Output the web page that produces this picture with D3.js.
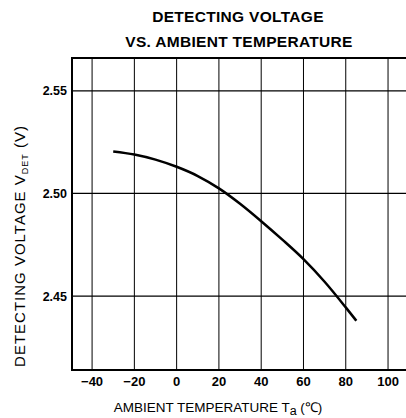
<!DOCTYPE html>
<html>
<head>
<meta charset="utf-8">
<script src="https://cdn.jsdelivr.net/npm/d3@7"></script>
<style>
  body { margin: 0; background: #fff; }
  text { font-family: "Liberation Sans", Arial, sans-serif; fill: #000; }
</style>
</head>
<body>
<div id="chart"></div>
<script>
// curve
const temps = [-30, -20, -10, 0, 10, 20, 30, 40, 50, 60, 70, 80, 85];
const volts = [2.5205, 2.519, 2.5165, 2.513, 2.5085, 2.5025, 2.495, 2.4865, 2.4775, 2.468, 2.457, 2.4445, 2.438];
const xTicks = [-40, -20, 0, 20, 40, 60, 80, 100];
const yTicks = [2.45, 2.50, 2.55];

const width = 406, height = 418;
const plotL = 72, plotT = 58, plotB = 370, plotR = 406;

const svg = d3.select("#chart")
  .append("svg")
  .attr("width", width)
  .attr("height", height);

const x = d3.scaleLinear().domain([-49.5, 108.5]).range([plotL, plotR]);
const y = d3.scaleLinear().domain([2.414, 2.566]).range([plotB, plotT]);

// grid
svg.selectAll(".vgrid")
  .data(xTicks)
  .enter()
  .append("line")
  .attr("x1", d => x(d)).attr("x2", d => x(d))
  .attr("y1", plotT).attr("y2", plotB)
  .attr("stroke", "#000")
  .attr("stroke-width", 1);

svg.selectAll(".hgrid")
  .data(yTicks)
  .enter()
  .append("line")
  .attr("x1", plotL).attr("x2", plotR)
  .attr("y1", d => y(d)).attr("y2", d => y(d))
  .attr("stroke", "#000")
  .attr("stroke-width", 1.3);

// frame (right side is open)
svg.append("path")
  .attr("d", `M${plotR},${plotT}H${plotL}V${plotB}H${plotR}`)
  .attr("fill", "none")
  .attr("stroke", "#000")
  .attr("stroke-width", 2);

// tick labels
svg.selectAll(".xlab")
  .data(xTicks)
  .enter()
  .append("text")
  .attr("x", d => x(d))
  .attr("y", 386)
  .attr("text-anchor", "middle")
  .style("font-size", "13px")
  .style("font-weight", "bold")
  .text(d => d < 0 ? "\u2212" + Math.abs(d) : d);

svg.selectAll(".ylab")
  .data(yTicks)
  .enter()
  .append("text")
  .attr("x", 67)
  .attr("y", d => y(d) + 4.5)
  .attr("text-anchor", "end")
  .style("font-size", "12.5px")
  .style("font-weight", "bold")
  .text(d => d.toFixed(2));

// curve
const line = d3.line()
  .x((d, i) => x(temps[i]))
  .y(d => y(d))
  .curve(d3.curveMonotoneX);

svg.append("path")
  .datum(volts)
  .attr("d", line)
  .attr("fill", "none")
  .attr("stroke", "#000")
  .attr("stroke-width", 2.5);

// titles
const title = svg.append("text")
  .attr("text-anchor", "middle")
  .style("font-size", "15.5px")
  .style("font-weight", "bold")
  .style("letter-spacing", "0.3px");
title.append("tspan").attr("x", 238).attr("y", 22).text("DETECTING VOLTAGE");
title.append("tspan").attr("x", 239).attr("y", 47).text("VS. AMBIENT TEMPERATURE");

const xt = svg.append("text")
  .attr("x", 218)
  .attr("y", 412)
  .attr("text-anchor", "middle")
  .style("font-size", "13.5px");
xt.append("tspan").text("AMBIENT TEMPERATURE T");
xt.append("tspan").attr("dy", 3).style("font-size", "12.5px").text("a");
xt.append("tspan").attr("dy", -3).text(" (\u2103)");

const yt = svg.append("text")
  .attr("transform", "translate(25,246) rotate(-90)")
  .attr("text-anchor", "middle")
  .style("font-size", "15px")
  .style("letter-spacing", "1px");
yt.append("tspan").text("DETECTING VOLTAGE V");
yt.append("tspan").attr("dy", 3).style("font-size", "9px").text("DET");
yt.append("tspan").attr("dy", -3).text(" (V)");
</script>
</body>
</html>
